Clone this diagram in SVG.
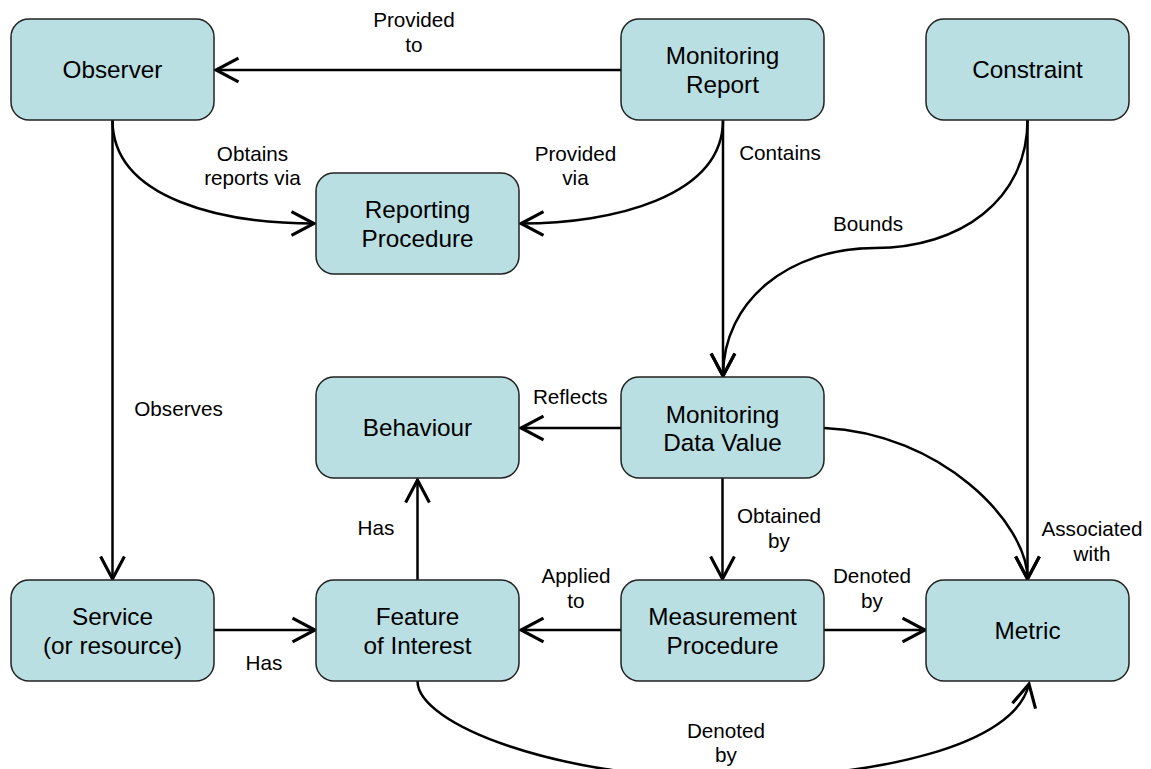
<svg xmlns="http://www.w3.org/2000/svg" width="1151" height="769" viewBox="0 0 1151 769">
<style>
.box{fill:#b9dfe2;stroke:#222;stroke-width:1.5}
.nt{font-family:"Liberation Sans",Arial,sans-serif;font-size:24.3px;fill:#000;text-anchor:middle}
.lt{font-family:"Liberation Sans",Arial,sans-serif;font-size:20.7px;fill:#000;text-anchor:middle}
.c{fill:none;stroke:#000;stroke-width:2.5;marker-end:url(#ah)}
</style>
<defs>
<marker id="ah" markerUnits="userSpaceOnUse" markerWidth="30" markerHeight="30" viewBox="-20 -12 24 24" refX="0" refY="0" orient="auto">
<path d="M-18,-9.5 L0,0 L-18,9.5" fill="none" stroke="#000" stroke-width="2.5"/>
</marker>
</defs>
<rect width="1151" height="769" fill="#fff"/>
<g id="connectors">
<path class="c" d="M621,70 L216,70"/>
<path class="c" d="M112.5,120 C112.5,200 225,223.5 314,223.5"/>
<path class="c" d="M723,120 C723,197 612,223.5 521,223.5"/>
<path class="c" d="M723,120 L723,376"/>
<path class="c" d="M1027.5,120 C1027.5,200 960,248 875,248 C790,248 723,300 723,376"/>
<path class="c" d="M1027.5,120 L1027.5,579"/>
<path class="c" d="M112.5,120 L112.5,579"/>
<path class="c" d="M622,428 L521,428"/>
<path class="c" d="M824,428 C940,433 1027.5,522 1027.5,579"/>
<path class="c" d="M722.5,478 L722.5,579"/>
<path class="c" d="M622,630 L521,630"/>
<path class="c" d="M824,630 L925,630"/>
<path class="c" d="M214,630 L315,630"/>
<path class="c" d="M417.5,580 L417.5,480"/>
<path class="c" d="M417.5,681 C417.5,725 560,778 720,778 C880,778 1015,745 1029,684"/>
<text class="lt" x="414" y="26.7">Provided</text>
<text class="lt" x="414" y="51.7">to</text>
<text class="lt" x="252.5" y="161">Obtains</text>
<text class="lt" x="252.5" y="185">reports via</text>
<text class="lt" x="575.5" y="160.7">Provided</text>
<text class="lt" x="575.5" y="185">via</text>
<text class="lt" x="780" y="160">Contains</text>
<text class="lt" x="868" y="230.7">Bounds</text>
<text class="lt" x="178.5" y="416">Observes</text>
<text class="lt" x="570.3" y="404">Reflects</text>
<text class="lt" x="376" y="535">Has</text>
<text class="lt" x="779" y="523">Obtained</text>
<text class="lt" x="779" y="548">by</text>
<text class="lt" x="1092" y="536">Associated</text>
<text class="lt" x="1092" y="561">with</text>
<text class="lt" x="576" y="583">Applied</text>
<text class="lt" x="576" y="608">to</text>
<text class="lt" x="872" y="583">Denoted</text>
<text class="lt" x="872" y="608">by</text>
<text class="lt" x="264" y="670">Has</text>
<text class="lt" x="726" y="738">Denoted</text>
<text class="lt" x="726" y="762">by</text>
</g>
<g id="observer"><rect class="box" x="11" y="19" width="203" height="101" rx="18"/><text class="nt" x="112.5" y="78">Observer</text></g>
<g id="monitoring-report"><rect class="box" x="621" y="19" width="203" height="101" rx="18"/><text class="nt" x="722.5" y="64">Monitoring</text><text class="nt" x="722.5" y="92.5">Report</text></g>
<g id="constraint"><rect class="box" x="926" y="19" width="203" height="101" rx="18"/><text class="nt" x="1027.5" y="78">Constraint</text></g>
<g id="reporting-procedure"><rect class="box" x="316" y="173" width="203" height="101" rx="18"/><text class="nt" x="417.5" y="218">Reporting</text><text class="nt" x="417.5" y="246.5">Procedure</text></g>
<g id="behaviour"><rect class="box" x="316" y="377" width="203" height="101" rx="18"/><text class="nt" x="417.5" y="436">Behaviour</text></g>
<g id="monitoring-data-value"><rect class="box" x="621" y="377" width="203" height="101" rx="18"/><text class="nt" x="722.5" y="422.5">Monitoring</text><text class="nt" x="722.5" y="451">Data Value</text></g>
<g id="service"><rect class="box" x="11" y="580" width="203" height="101" rx="18"/><text class="nt" x="112.5" y="625">Service</text><text class="nt" x="112.5" y="653.5">(or resource)</text></g>
<g id="feature-of-interest"><rect class="box" x="316" y="580" width="203" height="101" rx="18"/><text class="nt" x="417.5" y="625">Feature</text><text class="nt" x="417.5" y="653.5">of Interest</text></g>
<g id="measurement-procedure"><rect class="box" x="621" y="580" width="203" height="101" rx="18"/><text class="nt" x="722.5" y="625">Measurement</text><text class="nt" x="722.5" y="653.5">Procedure</text></g>
<g id="metric"><rect class="box" x="926" y="580" width="203" height="101" rx="18"/><text class="nt" x="1027.5" y="639">Metric</text></g>
</svg>
